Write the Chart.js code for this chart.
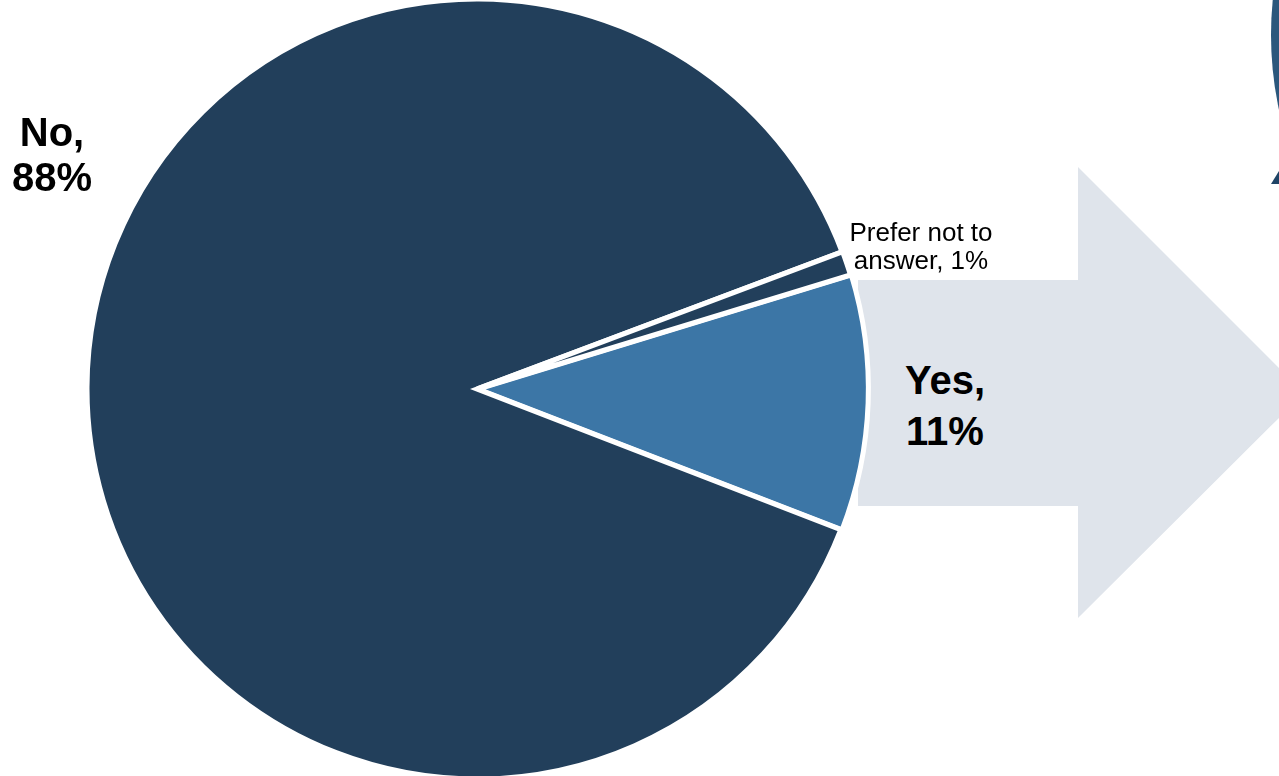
<!DOCTYPE html>
<html>
<head>
<meta charset="utf-8">
<script src="https://cdn.jsdelivr.net/npm/chart.js@4/dist/chart.umd.min.js"></script>
<style>
    html, body { margin: 0; padding: 0; background: #ffffff; }
    body { width: 1279px; height: 776px; position: relative; overflow: hidden; font-family: "Liberation Sans", Arial, sans-serif; }
    .arrow { position: absolute; left: 858px; top: 167px; width: 446px; height: 451px; background: #dfe4eb;
             clip-path: polygon(0 113px, 220px 113px, 220px 0, 446px 226px, 220px 451px, 220px 339px, 0 339px); }
    .ring { position: absolute; left: 1271px; top: -320px; width: 710px; height: 710px; border-radius: 50%; background: #2b577c; }
    .tri { position: absolute; left: 1271px; top: 171px; width: 8px; height: 13px; background: #1f4466;
           clip-path: polygon(100% 0, 100% 100%, 0 100%); }
    #wrap { position: absolute; left: 77px; top: 1px; width: 800px; height: 776px; }
    .lbl { position: absolute; text-align: center; color: #000; white-space: nowrap; }
    .big { font-weight: bold; font-size: 40px; }
    .small { font-size: 26px; line-height: 28px; }
</style>
</head>
<body>
<div class="arrow"></div>
<div class="ring"></div>
<div class="tri"></div>
<div id="wrap"><canvas id="pie"></canvas></div>
<div class="lbl big" style="left:-8px; top:110px; width:120px; line-height:45px;">No,<br>88%</div>
<div class="lbl big" style="left:885px; top:355px; width:120px; line-height:51px;">Yes,<br>11%</div>
<div class="lbl small" style="left:836px; top:218px; width:170px;">Prefer not to<br>answer, 1%</div>
<script>
// Survey answers
const categories = ['Yes', 'No', 'Prefer not to answer'];
const shares = [10.6, 88.4, 1.0];
const sliceColors = ['#3c76a6', '#223f5b', '#223f5b'];
const sliceOffsets = [4, 0, 1];

document.addEventListener('DOMContentLoaded', function() {
    const ctx = document.getElementById('pie').getContext('2d');
    new Chart(ctx, {
        type: 'pie',
        data: {
            labels: categories,
            datasets: [{
                data: shares,
                backgroundColor: sliceColors,
                borderColor: '#ffffff',
                borderWidth: 5,
                borderJoinStyle: 'miter',
                offset: sliceOffsets
            }]
        },
        options: {
            responsive: true,
            maintainAspectRatio: false,
            animation: false,
            rotation: 73,
            radius: 390,
            layout: { padding: 0 },
            plugins: {
                legend: { display: false },
                tooltip: { enabled: false }
            }
        }
    });
});
</script>
</body>
</html>
